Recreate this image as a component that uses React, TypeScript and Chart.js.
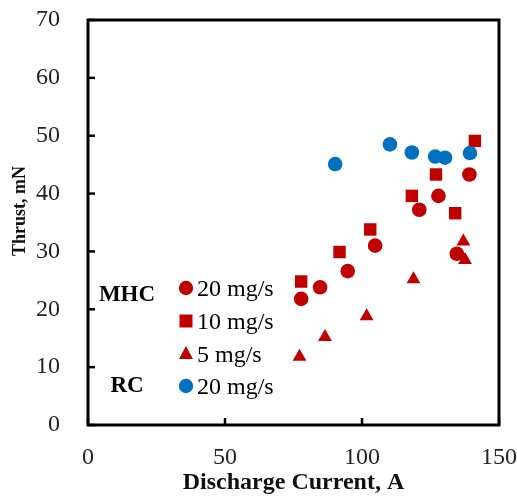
import React, { useEffect, useRef } from "react";
import { Chart, registerables } from "chart.js";

Chart.register(...registerables);

const FONT = "'Liberation Serif', 'Times New Roman', serif";
const RED = "#C00000";
const BLUE = "#0070C0";

// Discharge current (A) / thrust (mN)
const mhc20X = [77.8, 84.7, 94.8, 104.8, 120.9, 127.9, 134.6, 139.2];
const mhc20Y = [21.8, 23.8, 26.6, 31.0, 37.2, 39.6, 29.6, 43.3];
const mhc10X = [77.8, 91.8, 103.0, 118.2, 127.0, 134.0, 141.2];
const mhc10Y = [24.8, 29.9, 33.8, 39.6, 43.3, 36.6, 49.1];
const mhc5X = [77.2, 86.5, 101.7, 118.8, 137.0, 137.6];
const mhc5Y = [11.8, 15.2, 18.8, 25.2, 31.7, 28.5];
const rc20X = [90.2, 110.2, 118.2, 126.7, 130.3, 139.4];
const rc20Y = [45.1, 48.5, 47.1, 46.4, 46.2, 47.0];

const seriesLabels = ["20 mg/s", "10 mg/s", "5 mg/s", "20 mg/s"];
const groupLabels = ["MHC", "RC"];
const xTicks = [0, 50, 100, 150];
const yTicks = [0, 10, 20, 30, 40, 50, 60, 70];
const xTitle = "Discharge Current, A";
const yTitle = "Thrust, mN";

const pts = (xs: number[], ys: number[]) => xs.map((x, i) => ({ x, y: ys[i] }));

const framePlugin = {
  id: "frame",
  beforeDatasetsDraw(chart: any) {
    const { ctx, chartArea: a, scales } = chart;
    ctx.save();
    ctx.strokeStyle = "#000";
    ctx.lineWidth = 3;
    ctx.strokeRect(a.left, a.top, a.right - a.left, a.bottom - a.top);
    ctx.lineWidth = 2.5;
    scales.y.ticks.forEach((t: any) => {
      const py = scales.y.getPixelForValue(t.value);
      ctx.beginPath();
      ctx.moveTo(a.left, py);
      ctx.lineTo(a.left + 7, py);
      ctx.stroke();
    });
    scales.x.ticks.forEach((t: any) => {
      const px = scales.x.getPixelForValue(t.value);
      ctx.beginPath();
      ctx.moveTo(px, a.bottom);
      ctx.lineTo(px, a.bottom - 7);
      ctx.stroke();
    });
    // y-axis title
    ctx.save();
    ctx.translate(20, a.top + 191);
    ctx.rotate(-Math.PI / 2);
    ctx.font = `bold 18px ${FONT}`;
    ctx.fillStyle = "#111";
    ctx.textAlign = "center";
    ctx.textBaseline = "middle";
    ctx.fillText(yTitle, 0, 0);
    ctx.restore();
    ctx.restore();
  },
};

const legendPlugin = {
  id: "customLegend",
  afterDatasetsDraw(chart: any) {
    const { ctx, chartArea: a } = chart;
    const mx = a.left + 98;
    const rowY = [a.top + 268, a.top + 301, a.top + 334, a.top + 366];
    ctx.save();
    const byLegend = [3, 2, 1, 0];
    byLegend.forEach((di, row) => {
      const ds = chart.data.datasets[di];
      const y = rowY[row];
      ctx.fillStyle = ds.backgroundColor;
      ctx.beginPath();
      if (ds.pointStyle === "rect") {
        ctx.rect(mx - 6.5, y - 6.5, 13, 13);
      } else if (ds.pointStyle === "triangle") {
        ctx.moveTo(mx, y - 8);
        ctx.lineTo(mx + 7, y + 5);
        ctx.lineTo(mx - 7, y + 5);
        ctx.closePath();
      } else {
        ctx.arc(mx, y, 7.2, 0, Math.PI * 2);
      }
      ctx.fill();
      ctx.fillStyle = "#000";
      ctx.font = `24px ${FONT}`;
      ctx.textAlign = "left";
      ctx.textBaseline = "alphabetic";
      ctx.fillText(seriesLabels[row], mx + 11, y + 8);
    });
    ctx.font = `bold 23px ${FONT}`;
    ctx.textAlign = "center";
    ctx.fillStyle = "#000";
    ctx.fillText(groupLabels[0], a.left + 39, a.top + 281);
    ctx.fillText(groupLabels[1], a.left + 39, a.top + 372);
    ctx.restore();
  },
};

export default function App() {
  const ref = useRef<HTMLCanvasElement>(null);
  useEffect(() => {
    if (!ref.current) return;
    Chart.defaults.font.family = FONT;
    const chart = new Chart(ref.current, {
      type: "scatter",
      data: {
        datasets: [
          {
            label: seriesLabels[3],
            data: pts(rc20X, rc20Y),
            backgroundColor: BLUE,
            borderColor: BLUE,
            pointStyle: "circle",
            pointRadius: 7.3,
            borderWidth: 0,
            order: 0,
          },
          {
            label: seriesLabels[2],
            data: pts(mhc5X, mhc5Y),
            backgroundColor: RED,
            borderColor: RED,
            pointStyle: "triangle",
            pointRadius: 8,
            borderWidth: 0,
            order: 1,
          },
          {
            label: seriesLabels[1],
            data: pts(mhc10X, mhc10Y),
            backgroundColor: RED,
            borderColor: RED,
            pointStyle: "rect",
            pointRadius: 8.8,
            borderWidth: 0,
            order: 2,
          },
          {
            label: seriesLabels[0],
            data: pts(mhc20X, mhc20Y),
            backgroundColor: RED,
            borderColor: RED,
            pointStyle: "circle",
            pointRadius: 7.3,
            borderWidth: 0,
            order: 3,
          },
        ] as any,
      },
      options: {
        animation: false,
        responsive: false,
        layout: { padding: { left: 0, top: 20, right: 18, bottom: 0 } },
        plugins: { legend: { display: false }, tooltip: { enabled: false } },
        scales: {
          x: {
            type: "linear",
            min: 0,
            max: 150,
            afterBuildTicks: (s: any) => {
              s.ticks = xTicks.map((v) => ({ value: v }));
            },
            afterFit: (s: any) => {
              s.height = 72;
              s.paddingLeft = 0;
              s.paddingRight = 0;
            },
            grid: { display: false, drawTicks: false },
            border: { display: false },
            ticks: { color: "#222", font: { size: 24 }, padding: 18 },
            title: {
              display: true,
              text: xTitle,
              color: "#111",
              font: { size: 24, weight: "bold" },
              padding: { top: 0, bottom: 0 },
            },
          },
          y: {
            type: "linear",
            min: 0,
            max: 70,
            afterBuildTicks: (s: any) => {
              s.ticks = yTicks.map((v) => ({ value: v }));
            },
            afterFit: (s: any) => {
              s.width = 88;
              s.paddingTop = 0;
              s.paddingBottom = 0;
            },
            grid: { display: false, drawTicks: false },
            border: { display: false },
            ticks: { color: "#222", font: { size: 24 }, padding: 28 },
          },
        },
      },
      plugins: [framePlugin, legendPlugin],
    });
    return () => chart.destroy();
  }, []);
  return (
    <div style={{ position: "fixed", left: 0, top: 0, width: 517, height: 497, background: "#fff" }}>
      <canvas ref={ref} width={517} height={497} style={{ display: "block" }} />
    </div>
  );
}
